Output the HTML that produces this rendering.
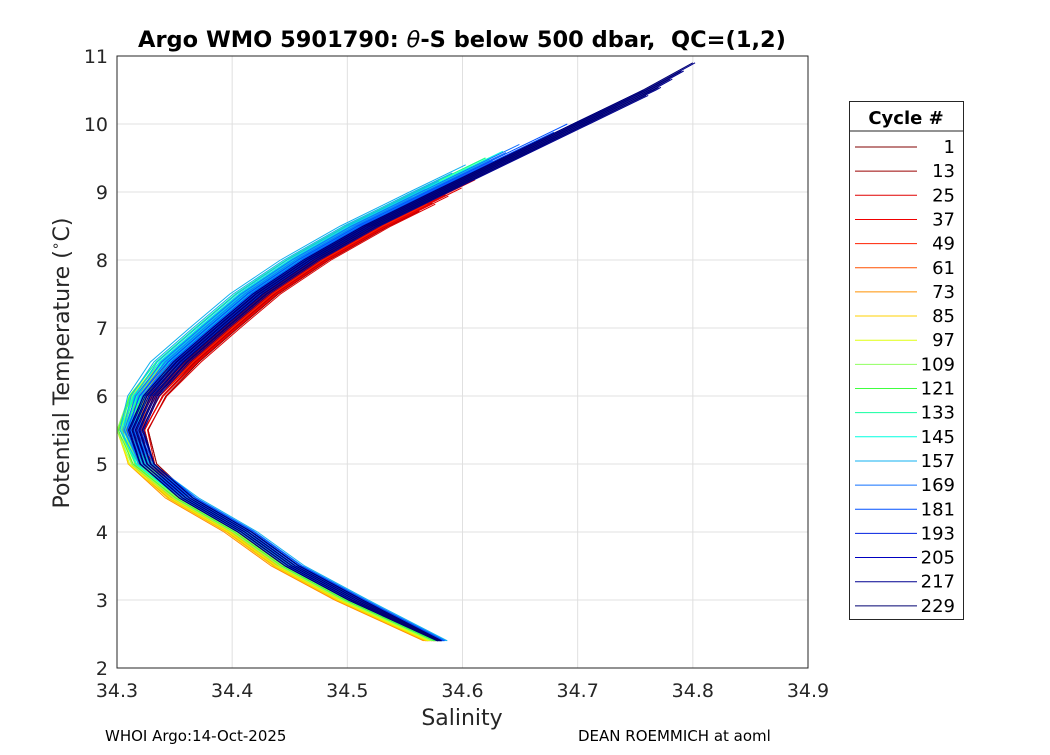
<!DOCTYPE html>
<html><head><meta charset="utf-8"><style>
body{margin:0;background:#fff;font-family:"Liberation Sans","DejaVu Sans",sans-serif}
svg text{font-family:"DejaVu Sans","Liberation Sans",sans-serif}
</style></head><body>
<svg id="chart" width="1050" height="750" viewBox="0 0 1050 750">
<rect x="0" y="0" width="1050" height="750" fill="#fff"/>
<g id="grid"></g>
<g id="clip-area"><defs><clipPath id="pc"><rect x="117" y="56" width="691" height="612"/></clipPath></defs>
<g id="series" clip-path="url(#pc)"></g></g>
<rect x="117" y="56" width="691" height="612" fill="none" stroke="#262626" stroke-width="1"/>
<g id="ticks"></g>
<text x="462" y="47" text-anchor="middle" font-size="22.5" font-weight="bold" fill="#000" xml:space="preserve">Argo WMO 5901790: <tspan font-style="italic" font-weight="normal">θ</tspan>-S below 500 dbar,  QC=(1,2)</text>
<text x="462" y="725" text-anchor="middle" font-size="22" fill="#262626">Salinity</text>
<text transform="translate(69,363) rotate(-90)" text-anchor="middle" font-size="22" fill="#262626">Potential Temperature (<tspan dy="-9" font-size="14">∘</tspan><tspan dy="9">C)</tspan></text>
<text x="105" y="741" font-size="15" fill="#000">WHOI Argo:14-Oct-2025</text>
<text x="578" y="741" font-size="15" fill="#000">DEAN ROEMMICH at aoml</text>
<g id="legend">
<rect x="849.5" y="101.5" width="114" height="518" fill="#fff" stroke="#262626"/>
<line x1="849.5" y1="131" x2="963.5" y2="131" stroke="#262626"/>
<text x="906" y="124" text-anchor="middle" font-size="18" font-weight="bold">Cycle #</text>
</g>
</svg>
<script>
const cycles=[1,13,25,37,49,61,73,85,97,109,121,133,145,157,169,181,193,205,217,229];
const colors=["#800000","#9a0000","#e00000","#f00000","#ff2000","#ff5000","#ff9000","#ffd000","#e0ff10","#90ff60","#40ff40","#10ffa0","#00ffe0","#10b0f0","#1070ff","#0050ff","#0020e0","#0000c0","#000090","#000070"];
const baseT=[2.4,3,3.5,4,4.5,5,5.5,6,6.5,7,7.5,8,8.5,9,9.5,10,10.5,10.9];
const baseS=[34.580,34.507,34.452,34.411,34.360,34.326,34.316,34.329,34.355,34.389,34.424,34.468,34.52,34.58,34.641,34.702,34.763,34.806];
const upperOff=[0.01,0.01,0.012,0.008,0.005,0,-0.005,-0.01,-0.012,-0.015,-0.015,-0.015,-0.012,-0.02,-0.01,-0.005,0,0,0.002,0];
const lowerOff=[0,0,-0.003,-0.005,-0.008,-0.01,-0.012,-0.01,-0.008,-0.005,-0.003,0,0,0.005,0.003,0.002,0,0,0,0];
const topT=[9.2,9.2,9.3,9.3,9.3,9.3,9.4,9.4,9.5,9.5,9.5,9.5,9.6,9.4,9.7,10.0,10.2,10.5,10.9,10.9];
const jitter=[-0.006,-0.003,0,0.003,0.006];
const xTicks=[34.3,34.4,34.5,34.6,34.7,34.8,34.9];
const yTicks=[2,3,4,5,6,7,8,9,10,11];
const X=s=>117+(s-34.3)/0.6*691;
const Y=t=>668-(t-2)/9*612;
const NS="http://www.w3.org/2000/svg";
function mk(tag,attrs,parent){const e=document.createElementNS(NS,tag);for(const k in attrs)e.setAttribute(k,attrs[k]);parent.appendChild(e);return e;}
const grid=document.getElementById('grid'),ticks=document.getElementById('ticks');
xTicks.forEach(v=>{
 const g=mk('line',{x1:X(v),x2:X(v),y1:56,y2:668,stroke:'#e0e0e0'},grid);
 
 
 const t=mk('text',{x:X(v),y:697,'text-anchor':'middle','font-size':19,fill:'#262626'},ticks);
 t.textContent=v.toFixed(1);
 
 
});
yTicks.forEach(v=>{
 const g=mk('line',{x1:117,x2:808,y1:Y(v),y2:Y(v),stroke:'#e0e0e0'},grid);
 
 
 const t=mk('text',{x:108,y:Y(v)+7,'text-anchor':'end','font-size':19,fill:'#262626'},ticks);
 t.textContent=v;
 
 
});
const series=document.getElementById('series');
cycles.forEach((c,i)=>{
 jitter.forEach((j,k)=>{
  const pts=[];
  const tt=topT[i]-0.12*k;
  for(let p=0;p<baseT.length;p++){
   let T=baseT[p];
   if(T>tt){
    const T0=baseT[p-1],S0=baseS[p-1];const f=(tt-T0)/(T-T0);
    const S=S0+f*(baseS[p]-S0);
    pts.push([S+upperOff[i]+j,tt]);break;
   }
   let w=T<=4.5?0:(T>=6.5?1:(T-4.5)/2);
   const off=lowerOff[i]*(1-w)+upperOff[i]*w;
   const jj=(T<3)?j*0.3:j;
   pts.push([baseS[p]+off+jj,T]);
  }
  const pl=mk('polyline',{points:pts.map(q=>X(q[0]).toFixed(1)+','+Y(q[1]).toFixed(1)).join(' '),fill:'none',stroke:colors[i],'stroke-width':1},series);
  
  
 });
});
const lg=document.getElementById('legend');
cycles.forEach((c,i)=>{
 const y=147+i*24.15;
 const l=mk('line',{x1:855,x2:917,y1:y,y2:y,stroke:colors[i],'stroke-width':1},lg);
 
 
 const t=mk('text',{x:955,y:y+6,'text-anchor':'end','font-size':18,fill:'#000'},lg);
 t.textContent=c;
 
 
});
</script>
</body></html>
